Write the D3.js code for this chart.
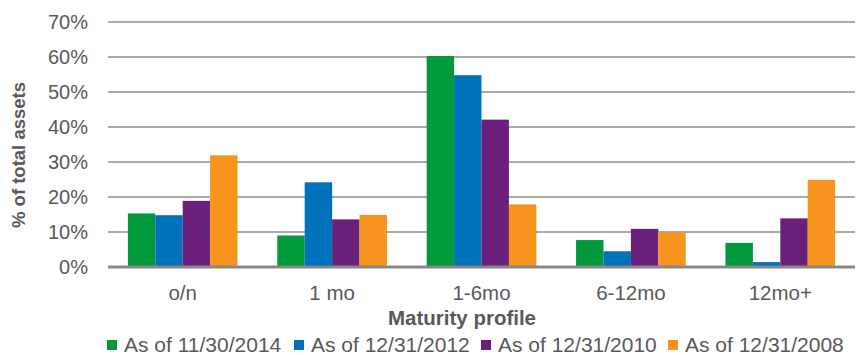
<!DOCTYPE html>
<html>
<head>
<meta charset="utf-8">
<script src="https://cdn.jsdelivr.net/npm/d3@7"></script>
<style>
  html, body { margin: 0; padding: 0; background: #fff; }
  svg text { font-family: "Liberation Sans", Arial, sans-serif; }
</style>
</head>
<body>
<svg id="chart" width="861" height="355"></svg>
<script>
// Maturity buckets and share of total assets (%) per reporting date
const categories = ["o/n", "1 mo", "1-6mo", "6-12mo", "12mo+"];
const seriesNames = ["As of 11/30/2014", "As of 12/31/2012", "As of 12/31/2010", "As of 12/31/2008"];
const nov2014 = [15.3, 9.0, 60.3, 7.7, 6.9];
const dec2012 = [14.8, 24.2, 54.8, 4.5, 1.4];
const dec2010 = [18.9, 13.6, 42.1, 10.9, 13.9];
const dec2008 = [31.9, 14.9, 17.9, 10.0, 24.9];
const yTicks = [0, 10, 20, 30, 40, 50, 60, 70];
const colors = ["#009a3a", "#0072bc", "#6a1f7a", "#f7941d"];

const series = [nov2014, dec2012, dec2010, dec2008];

const svg = d3.select("#chart");
const margin = { left: 108, right: 6, top: 22, bottom: 88 };
const W = 861, H = 355;
const plotW = W - margin.left - margin.right;
const plotH = H - margin.top - margin.bottom;

const g = svg.append("g").attr("transform", `translate(${margin.left},${margin.top})`);

const x0 = d3.scaleBand().domain(categories).range([0, plotW]).paddingInner(0.266).paddingOuter(0.133);
const x1 = d3.scaleBand().domain(d3.range(series.length)).range([0, x0.bandwidth()]);
const y = d3.scaleLinear().domain([0, 70]).range([plotH, 0]);

// horizontal gridlines
g.append("g")
  .selectAll("line")
  .data(yTicks.filter(t => t > 0))
  .join("line")
  .attr("x1", 0).attr("x2", plotW)
  .attr("y1", d => y(d)).attr("y2", d => y(d))
  .attr("stroke", "#8c8c8c").attr("stroke-width", 1.6);

// y axis labels
const yAxis = g.append("g").call(d3.axisLeft(y).tickValues(yTicks).tickFormat(d => d + "%").tickSize(0).tickPadding(20));
yAxis.select(".domain").remove();
yAxis.selectAll("text")
  .attr("fill", "#595959").style("font-size", "20px");

// bars
const groups = g.append("g").selectAll("g")
  .data(categories)
  .join("g")
  .attr("transform", d => `translate(${x0(d)},0)`);

groups.selectAll("rect")
  .data((c, ci) => series.map((s, si) => ({ si, v: s[ci] })))
  .join("rect")
  .attr("x", d => x1(d.si))
  .attr("width", x1.bandwidth())
  .attr("y", d => y(d.v))
  .attr("height", d => y(0) - y(d.v))
  .attr("fill", d => colors[d.si]);

// baseline
g.append("line")
  .attr("x1", 0).attr("x2", plotW)
  .attr("y1", y(0)).attr("y2", y(0))
  .attr("stroke", "#878787").attr("stroke-width", 3);

// category labels
const xAxis = g.append("g")
  .attr("transform", `translate(0,${plotH})`)
  .call(d3.axisBottom(x0).tickSize(0).tickPadding(18));
xAxis.select(".domain").remove();
xAxis.selectAll("text").attr("fill", "#595959").style("font-size", "20.5px");

// axis titles
svg.append("text")
  .attr("x", 462).attr("y", 325)
  .attr("text-anchor", "middle")
  .attr("fill", "#595959")
  .style("font-size", "20.5px").style("font-weight", "bold")
  .text("Maturity profile");

svg.append("text")
  .attr("transform", "translate(25,155) rotate(-90)")
  .attr("text-anchor", "middle")
  .attr("fill", "#595959")
  .style("font-size", "18.5px").style("font-weight", "bold")
  .text("% of total assets");

// legend
const legendX = [107, 294, 481, 668];
const legend = svg.append("g").selectAll("g")
  .data(seriesNames)
  .join("g")
  .attr("transform", (d, i) => `translate(${legendX[i]},340)`);
legend.append("rect").attr("width", 10).attr("height", 10).attr("fill", (d, i) => colors[i]);
legend.append("text")
  .attr("x", 17).attr("y", 12)
  .attr("fill", "#595959").style("font-size", "21px")
  .text(d => d);
</script>
</body>
</html>
